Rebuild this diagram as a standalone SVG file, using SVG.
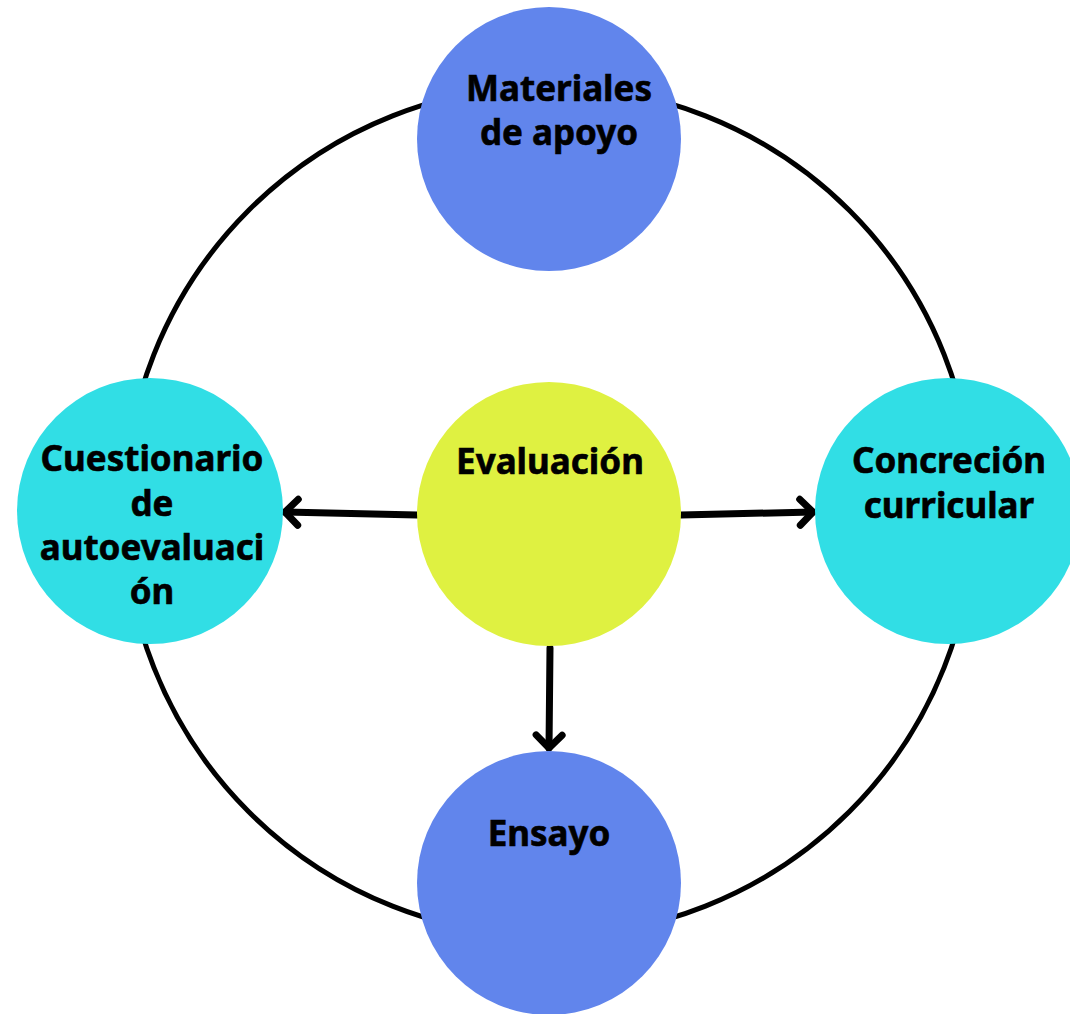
<svg xmlns="http://www.w3.org/2000/svg" width="1070" height="1014" viewBox="0 0 1070 1014">
<style>
.lbl{font-family:"Noto Sans","Open Sans",sans-serif;font-weight:700;font-size:35px;fill:#000;stroke:#000;stroke-width:0.6;text-anchor:middle}
.blue{fill:#6185ec}
.cyan{fill:#31dee5}
.lime{fill:#dff141}
.conn{stroke:#000;stroke-width:7;fill:none;stroke-linecap:round}
</style>
<defs>
<marker id="arr" markerUnits="userSpaceOnUse" markerWidth="40" markerHeight="40" refX="20" refY="20" orient="auto">
<path d="M7 7 L20 20 L7 33" fill="none" stroke="#000" stroke-width="7" stroke-linecap="round" stroke-linejoin="round"/>
</marker>
</defs>
<g id="ring">
<circle cx="549" cy="511" r="425" fill="none" stroke="#000" stroke-width="5"/>
</g>
<g id="connectors">
<line class="conn" x1="417" y1="515" x2="285" y2="512" marker-end="url(#arr)"/>
<line class="conn" x1="681" y1="515" x2="813" y2="512" marker-end="url(#arr)"/>
<line class="conn" x1="550" y1="648" x2="549" y2="748" marker-end="url(#arr)"/>
</g>
<g id="materiales">
<circle class="blue" cx="549" cy="139" r="132"/>
<text class="lbl" x="559" y="101">Materiales</text>
<text class="lbl" x="559" y="145">de apoyo</text>
</g>
<g id="cuestionario">
<circle class="cyan" cx="150" cy="511" r="133"/>
<text class="lbl" x="152" y="471">Cuestionario</text>
<text class="lbl" x="152" y="516">de</text>
<text class="lbl" x="152" y="560">autoevaluaci</text>
<text class="lbl" x="152" y="604">ón</text>
</g>
<g id="concrecion">
<circle class="cyan" cx="948" cy="511" r="133"/>
<text class="lbl" x="949" y="473">Concreción</text>
<text class="lbl" x="949" y="518">curricular</text>
</g>
<g id="evaluacion">
<circle class="lime" cx="549" cy="514" r="132"/>
<text class="lbl" x="550" y="474">Evaluación</text>
</g>
<g id="ensayo">
<circle class="blue" cx="549" cy="883" r="132"/>
<text class="lbl" x="549" y="846">Ensayo</text>
</g>
</svg>
